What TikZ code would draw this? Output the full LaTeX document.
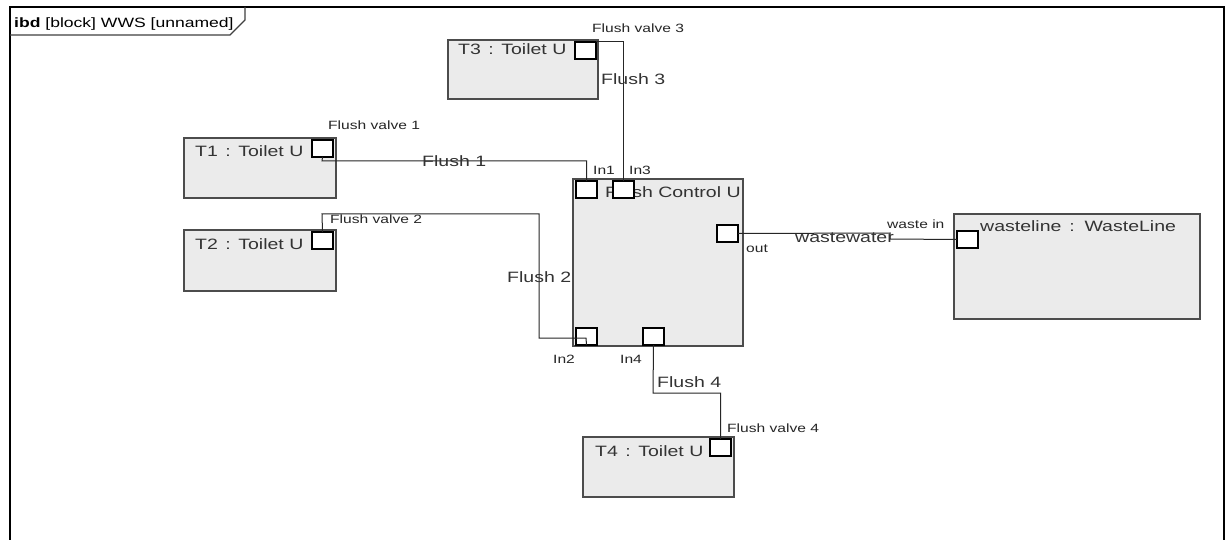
\documentclass[tikz,border=0pt]{standalone}
\usepackage{fontspec}
\setmainfont{Liberation Sans}[FakeStretch=1.3]
\begin{document}
\begin{tikzpicture}[x=1pt,y=-1pt,
  blockbox/.style={draw=black!70, line width=1.6pt, fill=black!8, inner sep=0pt, outer sep=0pt, anchor=north west},
  portbox/.style={draw=black, line width=1.1pt, fill=white, inner sep=0pt, outer sep=0pt, anchor=north west, minimum width=21pt, minimum height=17pt},
  wire/.style={draw=black!85, line width=1pt},
  bigtext/.style={anchor=base west, inner sep=0pt, font=\fontsize{15}{17}\selectfont, text=black!80},
  smalltext/.style={anchor=base west, inner sep=0pt, font=\fontsize{12}{14}\selectfont, text=black!85}
]
\useasboundingbox (0,0) rectangle (1226,540);
\fill[white] (0,0) rectangle (1226,540);
% frame
\draw[line width=2pt, black] (10,545) -- (10,7) -- (1224,7) -- (1224,545);
\draw[line width=1.2pt, black!75] (10,35) -- (230,35) -- (245,20) -- (245,7);
\node[anchor=base west, inner sep=0pt, font=\fontsize{13.5}{15}\selectfont] (title) at (14,28) {\textbf{ibd} [block] WWS [unnamed]};

% blocks
\node[blockbox, minimum width=150pt, minimum height=59pt] (T3) at (448,40) {};
\node[blockbox, minimum width=152pt, minimum height=60pt] (T1) at (184,138) {};
\node[blockbox, minimum width=152pt, minimum height=61pt] (T2) at (184,230) {};
\node[blockbox, minimum width=170pt, minimum height=167pt] (FC) at (573,179) {};
\node[blockbox, minimum width=246pt, minimum height=105pt] (WL) at (954,214) {};
\node[blockbox, minimum width=151pt, minimum height=60pt] (T4) at (583,437) {};

% block names
\node[bigtext] (T3n) at (458,55) {T3\enspace:\enspace Toilet U};
\node[bigtext] (T1n) at (195,157) {T1\enspace:\enspace Toilet U};
\node[bigtext] (T2n) at (195,250) {T2\enspace:\enspace Toilet U};
\node[bigtext] (T4n) at (595,456) {T4\enspace:\enspace Toilet U};
\node[bigtext] (FCn) at (605,198) {Flush Control U};
\node[bigtext] (WLn) at (980,232) {wasteline\, :\, WasteLine};

% ports
\node[portbox] (P3) at (575,42) {};
\node[portbox] (P1) at (312,140) {};
\node[portbox] (P2) at (312,232) {};
\node[portbox] (P4) at (710,439) {};
\node[portbox] (In1) at (576,181) {};
\node[portbox] (In3) at (613,181) {};
\node[portbox] (Out) at (717,225) {};
\node[portbox] (In2) at (576,328) {};
\node[portbox] (In4) at (643,328) {};
\node[portbox] (WIn) at (957,231) {};

% connectors
\draw[wire] (P3.north east) -- (In3.north |- P3.north east) -- (In3.north);
\draw[wire] (P1.south) -- (322,161) -- (In1.north |- 0,161) -- (In1.north);
\draw[wire] (P2.north) -- (322,214) -- (539,214) -- (539,338) -- (586,338) -- (In2.south);
\draw[wire] (In4.south) -- (653,393) -- (P4.north |- 0,393) -- (P4.north);
\coordinate (jog) at (890,233);
\draw[wire] (Out.east) -- (jog) -- (890,239) -- (WIn.west);

% connector labels
\node[bigtext] (L3) at (601,85) {Flush 3};
\node[bigtext] (L1) at (422,167) {Flush 1};
\node[bigtext] (L2) at (507,282) {Flush 2};
\node[bigtext] (L4) at (657,387) {Flush 4};
\node[bigtext] (Lw) at (795,242) {wastewater};

% port labels
\node[smalltext] (v3) at (592,33) {Flush valve 3};
\node[smalltext] (v1) at (328,130) {Flush valve 1};
\node[smalltext] (v2) at (330,223) {Flush valve 2};
\node[smalltext] (v4) at (727,432) {Flush valve 4};
\node[smalltext] (i1) at (593,175) {In1};
\node[smalltext] (i3) at (629,175) {In3};
\node[smalltext] (i2) at (553,363) {In2};
\node[smalltext] (i4) at (620,363) {In4};
\node[smalltext] (o) at (746,252) {out};
\node[smalltext] (wi) at (887,229) {waste in};
\end{tikzpicture}
\end{document}
